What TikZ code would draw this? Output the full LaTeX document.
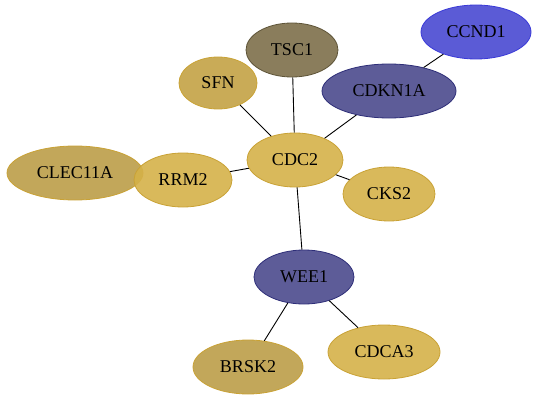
\documentclass[tikz,border=0pt]{standalone}
\usepackage{fontspec}
\setmainfont{Liberation Serif}
\usetikzlibrary{shapes.geometric}
\definecolor{goldA}{HTML}{D5B149}
\definecolor{goldB}{HTML}{C3A245}
\definecolor{goldC}{HTML}{BB9D48}
\definecolor{goldEdge}{HTML}{C9A235}
\definecolor{olive}{HTML}{7D6F4A}
\definecolor{oliveEdge}{HTML}{5E5438}
\definecolor{blueA}{HTML}{4949D1}
\definecolor{blueAEdge}{HTML}{3A3AD8}
\definecolor{navy}{HTML}{4B4A8D}
\definecolor{navyEdge}{HTML}{2E2E78}
\tikzset{
  gene/.style={ellipse, draw, line width=0.8pt, fill opacity=0.9, text opacity=1,
    inner sep=0pt, font=\fontsize{18}{20}\selectfont},
  link/.style={line width=0.9pt, black}
}
\begin{document}
\begin{tikzpicture}[x=1pt,y=-1pt]
\useasboundingbox (0,0) rectangle (540,401);
\node[gene, fill=blueA, draw=blueAEdge, minimum width=110pt, minimum height=54pt] (ccnd1) at (476,32) {CCND1};
\node[gene, fill=olive, draw=oliveEdge, minimum width=92pt, minimum height=54pt] (tsc1) at (292,50) {TSC1};
\node[gene, fill=goldB, draw=goldEdge, minimum width=78pt, minimum height=52pt] (sfn) at (218,83) {SFN};
\node[gene, fill=navy, draw=navyEdge, minimum width=134pt, minimum height=54pt] (cdkn1a) at (389,91) {CDKN1A};
\node[gene, fill=goldA, draw=goldEdge, minimum width=96pt, minimum height=54pt] (cdc2) at (295,160) {CDC2};
\node[gene, fill=goldC, draw=goldEdge, minimum width=136pt, minimum height=54pt] (clec) at (75,173) {CLEC11A};
\node[gene, fill=goldA, draw=goldEdge, minimum width=98pt, minimum height=54pt] (rrm2) at (183,180) {RRM2};
\node[gene, fill=goldA, draw=goldEdge, minimum width=92pt, minimum height=54pt] (cks2) at (389,194) {CKS2};
\node[gene, fill=navy, draw=navyEdge, minimum width=100pt, minimum height=54pt] (wee1) at (304,277) {WEE1};
\node[gene, fill=goldC, draw=goldEdge, minimum width=110pt, minimum height=54pt] (brsk2) at (248,367) {BRSK2};
\node[gene, fill=goldA, draw=goldEdge, minimum width=112pt, minimum height=54pt] (cdca3) at (384,352) {CDCA3};
\draw[link] (cdc2) -- (sfn);
\draw[link] (cdc2) -- (tsc1);
\draw[link] (cdc2) -- (cdkn1a);
\draw[link] (cdkn1a) -- (ccnd1);
\draw[link] (cdc2) -- (rrm2);
\draw[link] (cdc2) -- (cks2);
\draw[link] (cdc2) -- (wee1);
\draw[link] (wee1) -- (brsk2);
\draw[link] (wee1) -- (cdca3);
\end{tikzpicture}
\end{document}
